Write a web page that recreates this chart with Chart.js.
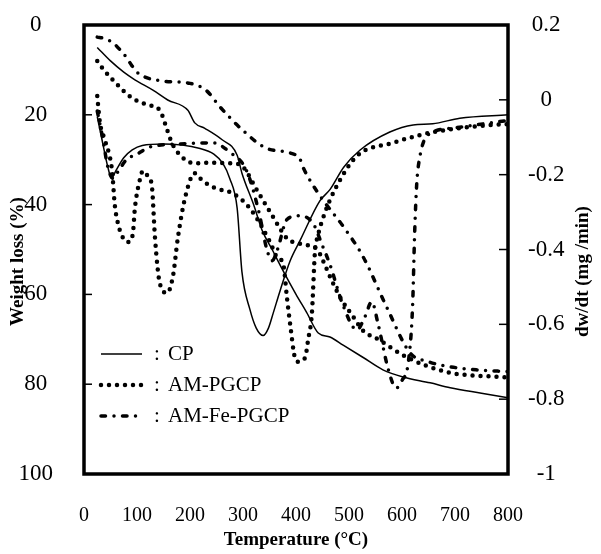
<!DOCTYPE html>
<html>
<head>
<meta charset="utf-8">
<script src="https://cdn.jsdelivr.net/npm/chart.js@4.4.0/dist/chart.umd.min.js"></script>
<style>
	body { margin: 0; background: #fff; }
</style>
</head>
<body>
<canvas id="tga" width="601" height="554"></canvas>
<script>
// values: temperature (°C), weight loss (%) and dw/dt (mg/min)
var tgCpT = [25, 50, 75, 96, 130, 158, 196, 209, 228, 260, 289, 298, 320, 336, 355, 375, 400, 420, 442, 464, 489, 526, 564, 602, 653, 691, 750, 800];
var tgCpW = [5, 8, 10.5, 12.2, 14.5, 16.7, 19, 21.8, 23, 25.5, 29, 33, 40, 45.7, 50, 54.6, 60, 64, 68.6, 69.5, 71.3, 74, 76.8, 78.4, 79.7, 80.8, 82, 83];

var tgPgT = [25, 30, 64, 91, 121, 143, 157, 166, 185, 209, 232, 281, 300, 326, 357, 383, 410, 440, 451, 464, 483, 508, 526, 558, 609, 685, 785, 800];
var tgPgW = [8, 8.9, 13.4, 16.3, 17.8, 19, 23.4, 26.3, 29.4, 30.8, 30.7, 30.8, 31.6, 36.7, 42.8, 47.5, 48.8, 50, 52.5, 56, 60.6, 65, 68, 70.2, 74, 77.3, 78.4, 78.5];

var tgFeT = [25, 38, 55, 70, 80, 90, 100, 115, 150, 200, 230, 257, 300, 345, 389, 408, 413, 426, 451, 490, 527, 571, 615, 650, 685, 740, 800];
var tgFeW = [2.7, 3, 4, 5.8, 7.2, 9, 10.5, 11.6, 12.5, 13, 14.5, 18.3, 23.5, 27.5, 28.5, 30, 31.6, 34.5, 39, 45, 51.7, 62.8, 73, 75, 76, 76.8, 77.2];

var dtgCpT = [25, 33, 45, 52, 60, 75, 91, 110, 150, 219, 245, 262, 275, 289, 298, 313, 325, 338, 348, 357, 370, 389, 408, 445, 464, 490, 521, 577, 621, 658, 709, 800];
var dtgCpD = [-0.045, -0.1, -0.18, -0.21, -0.19, -0.155, -0.134, -0.122, -0.118, -0.13, -0.145, -0.17, -0.21, -0.29, -0.46, -0.56, -0.61, -0.63, -0.61, -0.57, -0.51, -0.43, -0.375, -0.27, -0.24, -0.18, -0.134, -0.086, -0.067, -0.064, -0.049, -0.04];

var dtgPgT = [25, 30, 40, 53, 58, 64, 74, 83, 92, 96, 106, 111, 121, 128, 134, 143, 157, 168, 177, 191, 209, 219, 238, 257, 281, 313, 351, 364, 376, 383, 389, 398, 404, 417, 423, 430, 436, 440, 455, 477, 515, 583, 634, 685, 772, 800];
var dtgPgD = [0.01, -0.06, -0.11, -0.19, -0.28, -0.33, -0.37, -0.38, -0.36, -0.29, -0.21, -0.19, -0.205, -0.23, -0.37, -0.49, -0.516, -0.47, -0.37, -0.26, -0.196, -0.21, -0.23, -0.24, -0.25, -0.29, -0.38, -0.42, -0.44, -0.53, -0.6, -0.69, -0.7, -0.69, -0.64, -0.57, -0.4, -0.37, -0.3, -0.23, -0.15, -0.115, -0.094, -0.08, -0.067, -0.065];

var dtgFeT = [25, 35, 45, 55, 65, 80, 100, 125, 180, 243, 275, 307, 330, 345, 355, 365, 383, 405, 432, 450, 464, 489, 515, 530, 543, 555, 574, 589, 600, 612, 620, 624, 628, 634, 640, 653, 700, 800];
var dtgFeD = [-0.03, -0.1, -0.18, -0.21, -0.19, -0.16, -0.145, -0.126, -0.118, -0.115, -0.14, -0.19, -0.3, -0.4, -0.43, -0.4, -0.32, -0.31, -0.33, -0.39, -0.44, -0.55, -0.615, -0.58, -0.54, -0.6, -0.72, -0.77, -0.75, -0.7, -0.55, -0.35, -0.22, -0.15, -0.115, -0.09, -0.075, -0.055];

var legendNames = ["CP", "AM-PGCP", "AM-Fe-PGCP"];

var serif = "'Liberation Serif', 'Times New Roman', serif";

function pts(xs, ys) {
	var out = [];
	for (var i = 0; i < xs.length; i++) {
		out.push({ x: xs[i], y: ys[i] });
	}
	return out;
}

var solid = { borderWidth: 1.5, borderDash: [], borderCapStyle: 'butt' };
var dotted = { borderWidth: 4.5, borderDash: [0, 8], borderCapStyle: 'round' };
var dashDot = { borderWidth: 3.5, borderDash: [4.5, 8.5, 0, 8.5], borderCapStyle: 'round' };

function series(label, xs, ys, style, axis) {
	return {
		label: label,
		data: pts(xs, ys),
		yAxisID: axis,
		borderColor: "#000000",
		borderWidth: style.borderWidth,
		borderDash: style.borderDash,
		borderCapStyle: style.borderCapStyle,
		pointRadius: 0,
		fill: false,
		cubicInterpolationMode: 'monotone'
	};
}

// fixed axis box size, no extra room asked for the end labels
function fixWidth(w) {
	return function (s) {
		s.width = w;
		s.paddingTop = 0;
		s.paddingBottom = 0;
	};
}

var frame = {
	id: 'frame',
	afterDraw: function (chart) {
		var ctx = chart.ctx;
		var a = chart.chartArea;
		ctx.save();
		ctx.strokeStyle = "#000";
		ctx.fillStyle = "#000";

		// inward tick marks
		ctx.lineWidth = 1.5;
		ctx.setLineDash([]);
		var yW = chart.scales.yW, yD = chart.scales.yD;
		yW.ticks.forEach(function (t) {
			var p = yW.getPixelForValue(t.value);
			ctx.beginPath(); ctx.moveTo(a.left, p); ctx.lineTo(a.left + 8, p); ctx.stroke();
		});
		yD.ticks.forEach(function (t) {
			var p = yD.getPixelForValue(t.value);
			ctx.beginPath(); ctx.moveTo(a.right, p); ctx.lineTo(a.right - 9, p); ctx.stroke();
		});

		// plot frame
		ctx.lineWidth = 3.5;
		ctx.strokeRect(a.left, a.top, a.right - a.left, a.bottom - a.top);

		// axis titles
		ctx.font = "bold 19px " + serif;
		ctx.textAlign = "center";
		ctx.textBaseline = "middle";
		ctx.fillText("Temperature (\u00B0C)", (a.left + a.right) / 2, 540);
		ctx.save();
		ctx.translate(18, (a.top + a.bottom) / 2 + 12);
		ctx.rotate(-Math.PI / 2);
		ctx.fillText("Weight loss (%)", 0, 0);
		ctx.restore();
		ctx.save();
		ctx.translate(583, (a.top + a.bottom) / 2 + 22);
		ctx.rotate(-Math.PI / 2);
		ctx.fillText("dw/dt (mg /min)", 0, 0);
		ctx.restore();

		// legend: line sample, colon, name
		ctx.font = "21px " + serif;
		ctx.textAlign = "left";
		for (var i = 0; i < 3; i++) {
			var ds = chart.data.datasets[i];
			var y = a.top + 329 + i * 31;
			ctx.save();
			ctx.lineWidth = ds.borderWidth;
			ctx.setLineDash(ds.borderDash);
			ctx.lineCap = ds.borderCapStyle;
			ctx.beginPath(); ctx.moveTo(a.left + 17, y); ctx.lineTo(a.left + 58, y); ctx.stroke();
			ctx.restore();
			ctx.fillText(":", a.left + 70, y);
			ctx.fillText(legendNames[i], a.left + 84, y);
		}
		ctx.restore();
	}
};

var ctxa = document.getElementById("tga").getContext('2d');

var tgaChart = new Chart(ctxa, {
	type: 'line',
	data: {
		datasets: [
			series("CP", tgCpT, tgCpW, solid, 'yW'),
			series("AM-PGCP", tgPgT, tgPgW, dotted, 'yW'),
			series("AM-Fe-PGCP", tgFeT, tgFeW, dashDot, 'yW'),
			series("CP dtg", dtgCpT, dtgCpD, solid, 'yD'),
			series("AM-PGCP dtg", dtgPgT, dtgPgD, dotted, 'yD'),
			series("AM-Fe-PGCP dtg", dtgFeT, dtgFeD, dashDot, 'yD')
		]
	},
	options: {
		responsive: false,
		animation: false,
		layout: { padding: { top: 25, left: 0, right: 0, bottom: 0 } },
		plugins: {
			legend: { display: false },
			tooltip: { enabled: false }
		},
		scales: {
			x: {
				type: 'linear',
				min: 0,
				max: 800,
				grid: { display: false, drawTicks: false },
				border: { display: false },
				ticks: {
					stepSize: 100,
					padding: 30,
					color: "#000",
					maxRotation: 0,
					font: { family: serif, size: 20 }
				},
				afterFit: function (s) { s.height = 80; }
			},
			yW: {
				position: 'left',
				reverse: true,
				min: 0,
				max: 100,
				grid: { display: false, drawTicks: false },
				border: { display: false },
				ticks: {
					stepSize: 20,
					padding: 31,
					crossAlign: 'center',
					color: "#000",
					font: { family: serif, size: 23 }
				},
				afterFit: fixWidth(84)
			},
			yD: {
				position: 'right',
				min: -1,
				max: 0.2,
				grid: { display: false, drawTicks: false },
				border: { display: false },
				ticks: {
					stepSize: 0.2,
					padding: 20,
					crossAlign: 'center',
					color: "#000",
					font: { family: serif, size: 23 },
					callback: function (v) { return String(Math.round(v * 10) / 10); }
				},
				afterFit: fixWidth(93)
			}
		}
	},
	plugins: [frame]
});
</script>
</body>
</html>
